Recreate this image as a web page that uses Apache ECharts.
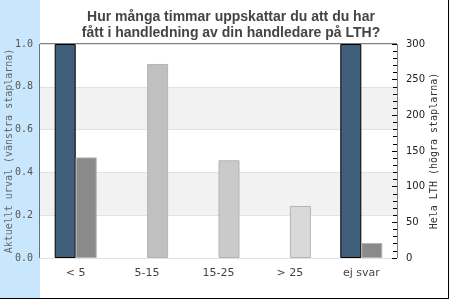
<!DOCTYPE html>
<html><head><meta charset="utf-8">
<script src="https://cdn.jsdelivr.net/npm/echarts@6/dist/echarts.min.js"></script>
<style>html,body{margin:0;padding:0;background:#fff}#c{width:450px;height:300px}</style>
</head><body><div id="c"></div>
<script>
const titleText = 'Hur många timmar uppskattar du att du har\nfått i handledning av din handledare på LTH?';
const categories = ['< 5', '5-15', '15-25', '> 25', 'ej svar'];
const leftValues = [1.0, 0, 0, 0, 1.0];      // Aktuellt urval
const rightValues = [141, 272, 137, 73, 21];   // Hela LTH
const leftTicks = [0, 0.2, 0.4, 0.6, 0.8, 1.0];
const rightTicks = [0, 50, 100, 150, 200, 250, 300];
const rightColors = ['#8a8a8a', '#c0c0c0', '#cacaca', '#d9d9d9', '#8a8a8a'];

const chart = echarts.init(document.getElementById('c'), null, {renderer: 'canvas'});
chart.setOption({
  animation: false,
  backgroundColor: '#fff',
  graphic: [
    {type: 'rect', shape: {x: 0, y: 0, width: 40, height: 298}, style: {fill: '#c8e7fc'}, z: -10},
    {type: 'line', shape: {x1: 0, y1: 298.5, x2: 449, y2: 298.5}, style: {stroke: '#000', lineWidth: 1}},
    {type: 'line', shape: {x1: 448.5, y1: 0, x2: 448.5, y2: 299}, style: {stroke: '#000', lineWidth: 1}}
  ],
  title: {
    text: titleText, left: 226, top: 4, textAlign: 'center',
    textStyle: {fontFamily: 'Liberation Sans', fontWeight: 'bold', fontSize: 14, color: '#444', lineHeight: 16}
  },
  grid: {left: 40, right: 53, top: 44, bottom: 42, outerBoundsMode: 'none', containLabel: false,
    show: true, borderColor: '#000', borderWidth: 1, backgroundColor: 'transparent'},
  xAxis: {
    type: 'category', data: categories,
    axisLine: {show: false}, axisTick: {show: false},
    axisLabel: {color: '#444', fontFamily: 'DejaVu Sans', fontSize: 11, margin: 10}
  },
  yAxis: [
    {
      type: 'value', min: 0, max: 1, interval: 0.2, position: 'left',
      name: 'Aktuellt urval (vänstra staplarna)', nameLocation: 'middle', nameGap: 26, nameRotate: 90,
      nameMoveOverlap: false,
      nameTextStyle: {fontFamily: 'DejaVu Sans Mono', fontSize: 10, color: '#666'},
      axisLine: {show: false}, axisTick: {show: false},
      axisLabel: {fontFamily: 'DejaVu Sans Mono', fontSize: 10, color: '#555', margin: 7,
        formatter: v => leftTicks.includes(+v.toFixed(1)) ? v.toFixed(1) : ''},
      splitLine: {show: true, lineStyle: {color: '#e2e2e2'}},
      splitArea: {show: true, areaStyle: {color: ['#ffffff', '#f2f2f2']}}
    },
    {
      type: 'value', min: 0, max: 300, interval: 50, position: 'right',
      name: 'Hela LTH (högra staplarna)', nameLocation: 'middle', nameGap: 32, nameRotate: 90,
      nameMoveOverlap: false,
      nameTextStyle: {fontFamily: 'DejaVu Sans Mono', fontSize: 10, color: '#333'},
      axisLine: {show: false},
      axisTick: {show: true, inside: true, length: 5, lineStyle: {color: '#000'}},
      minorTick: {show: true, splitNumber: 5, length: 4, lineStyle: {color: '#000'}},
      axisLabel: {fontFamily: 'DejaVu Sans', fontSize: 10, color: '#222', margin: 9,
        formatter: v => rightTicks.includes(v) ? String(v) : ''},
      splitLine: {show: false}
    }
  ],
  series: [
    {
      type: 'bar', yAxisIndex: 0, barWidth: 21, barGap: '0%',
      data: leftValues.map(v => v === 0 ? '-' : v),
      itemStyle: {color: '#3f5f7a', borderColor: '#000', borderWidth: 1}
    },
    {
      type: 'bar', yAxisIndex: 1, barWidth: 21,
      data: rightValues.map((v, i) => ({value: v, itemStyle: {color: rightColors[i]}})),
      itemStyle: {borderColor: '#b4b4b4', borderWidth: 1}
    }
  ]
});
</script></body></html>
